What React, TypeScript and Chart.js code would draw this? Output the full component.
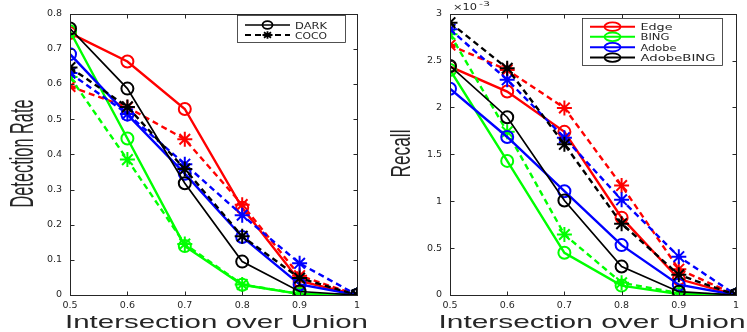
import React, { useEffect, useRef } from 'react';
import { Chart, registerables } from 'chart.js';

Chart.register(...registerables);

// ---------- data ----------
const iouLevels = [0.5, 0.6, 0.7, 0.8, 0.9, 1];

// Left panel: Detection Rate
const darkEdge = [0.745, 0.664, 0.529, 0.248, 0.04, 0];
const cocoEdge = [0.593, 0.534, 0.443, 0.257, 0.055, 0];
const darkBing = [0.75, 0.445, 0.139, 0.029, 0.003, 0];
const cocoBing = [0.62, 0.385, 0.145, 0.03, 0.003, 0];
const darkAdobe = [0.685, 0.513, 0.345, 0.165, 0.03, 0];
const cocoAdobe = [0.631, 0.515, 0.372, 0.227, 0.09, 0];
const darkAdobeBing = [0.758, 0.587, 0.318, 0.095, 0.01, 0];
const cocoAdobeBing = [0.647, 0.535, 0.358, 0.167, 0.048, 0];

// Right panel: Recall (x 10^-3)
const recallEdgeSolid = [2.436, 2.17, 1.74, 0.825, 0.17, 0];
const recallEdgeDashed = [2.665, 2.4, 1.995, 1.167, 0.275, 0];
const recallBingSolid = [2.4, 1.43, 0.45, 0.1, 0.01, 0];
const recallBingDashed = [2.78, 1.74, 0.645, 0.13, 0.02, 0];
const recallAdobeSolid = [2.2, 1.685, 1.107, 0.532, 0.11, 0];
const recallAdobeDashed = [2.834, 2.295, 1.678, 1.015, 0.409, 0];
const recallAdobeBingSolid = [2.443, 1.896, 1.008, 0.303, 0.035, 0];
const recallAdobeBingDashed = [2.904, 2.418, 1.607, 0.761, 0.215, 0];

const leftYTicks = [0, 0.1, 0.2, 0.3, 0.4, 0.5, 0.6, 0.7, 0.8];
const rightYTicks = [0, 0.5, 1, 1.5, 2, 2.5, 3];

const methodNames = ['Edge', 'BING', 'Adobe', 'AdobeBING'];
const styleNames = ['DARK', 'COCO'];

// ---------- styles ----------
const RED = '#ff0000';
const GREEN = '#00ff00';
const BLUE = '#0000ff';
const BLACK = '#000000';
const TEXT = '#262626';

type Pair = { name: string; color: string; solid: number[]; dashed: number[] };

const leftPairs: Pair[] = [
  { name: methodNames[0], color: RED, solid: darkEdge, dashed: cocoEdge },
  { name: methodNames[1], color: GREEN, solid: darkBing, dashed: cocoBing },
  { name: methodNames[2], color: BLUE, solid: darkAdobe, dashed: cocoAdobe },
  { name: methodNames[3], color: BLACK, solid: darkAdobeBing, dashed: cocoAdobeBing },
];
const rightPairs: Pair[] = [
  { name: methodNames[0], color: RED, solid: recallEdgeSolid, dashed: recallEdgeDashed },
  { name: methodNames[1], color: GREEN, solid: recallBingSolid, dashed: recallBingDashed },
  { name: methodNames[2], color: BLUE, solid: recallAdobeSolid, dashed: recallAdobeDashed },
  { name: methodNames[3], color: BLACK, solid: recallAdobeBingSolid, dashed: recallAdobeBingDashed },
];

function buildDatasets(pairs: Pair[]) {
  const ds: any[] = [];
  pairs.forEach((p, i) => {
    const base = 2 * (pairs.length - 1 - i);
    ds.push({
      label: p.name + ' solid',
      data: iouLevels.map((x, k) => ({ x, y: p.solid[k] })),
      borderColor: p.color,
      backgroundColor: p.color,
      borderWidth: p.color === BLACK ? 1.7 : 2.4,
      pointStyle: 'circle',
      pointRadius: 6,
      pointBorderWidth: 2,
      pointBackgroundColor: 'rgba(0,0,0,0)',
      pointBorderColor: p.color,
      tension: 0,
      fill: false,
      order: base + 1,
    });
    ds.push({
      label: p.name + ' dashed',
      data: iouLevels.map((x, k) => ({ x, y: p.dashed[k] })),
      borderColor: p.color,
      backgroundColor: p.color,
      borderWidth: 2.4,
      borderDash: [6, 4],
      pointStyle: 'star',
      pointRadius: 7.5,
      pointBorderWidth: 2,
      pointBackgroundColor: p.color,
      pointBorderColor: p.color,
      tension: 0,
      fill: false,
      order: base,
    });
  });
  return ds;
}

function fitText(ctx: CanvasRenderingContext2D, text: string, x: number, y: number, font: string, width: number, angle = 0, align: CanvasTextAlign = 'center') {
  ctx.save();
  ctx.translate(x, y);
  ctx.rotate(angle);
  ctx.font = font;
  const w = ctx.measureText(text).width;
  ctx.scale(width / w, 1);
  ctx.textAlign = align;
  ctx.textBaseline = 'alphabetic';
  ctx.fillText(text, 0, 0);
  ctx.restore();
}

function drawMarker(ctx: CanvasRenderingContext2D, kind: string, cx: number, cy: number, rx: number, ry: number) {
  ctx.beginPath();
  if (kind === 'circle') {
    ctx.ellipse(cx, cy, rx, ry, 0, 0, Math.PI * 2);
  } else {
    for (let k = 0; k < 4; k++) {
      const a = (k * Math.PI) / 4;
      ctx.moveTo(cx - Math.cos(a) * rx, cy - Math.sin(a) * ry);
      ctx.lineTo(cx + Math.cos(a) * rx, cy + Math.sin(a) * ry);
    }
  }
  ctx.stroke();
}

const framePlugin = {
  id: 'matlabFrame',
  afterDraw(chart: any, _args: any, opts: any) {
    const { ctx, chartArea: a, scales } = chart;
    ctx.save();
    ctx.strokeStyle = TEXT;
    ctx.lineWidth = 1;
    const L = Math.round(a.left) + 0.5;
    const R = Math.round(a.right) + 0.5;
    const T = Math.round(a.top) + 0.5;
    const B = Math.round(a.bottom) + 0.5;
    ctx.strokeRect(L, T, R - L, B - T);
    const tl = 4;
    ctx.beginPath();
    scales.x.ticks.forEach((t: any) => {
      const px = Math.round(scales.x.getPixelForValue(t.value)) + 0.5;
      ctx.moveTo(px, B);
      ctx.lineTo(px, B - tl);
      ctx.moveTo(px, T);
      ctx.lineTo(px, T + tl);
    });
    scales.y.ticks.forEach((t: any) => {
      const py = Math.round(scales.y.getPixelForValue(t.value)) + 0.5;
      ctx.moveTo(L, py);
      ctx.lineTo(L + tl, py);
      ctx.moveTo(R, py);
      ctx.lineTo(R - tl, py);
    });
    ctx.stroke();

    ctx.fillStyle = TEXT;
    const yt = opts.yTitle;
    fitText(ctx, yt.text, yt.x, yt.y, yt.font, yt.len, -Math.PI / 2);
    const xt = opts.xTitle;
    fitText(ctx, xt.text, xt.x, xt.y, xt.font, xt.len);
    if (opts.exponent) {
      const e = opts.exponent;
      fitText(ctx, '\u00d710', e.x, e.y, '8px "DejaVu Sans"', 24, 0, 'left');
      fitText(ctx, '-3', e.x + 26, e.y - 3.5, '6.5px "DejaVu Sans"', 11, 0, 'left');
    }
    const lg = opts.legend;
    ctx.fillStyle = '#ffffff';
    ctx.fillRect(lg.x, lg.y, lg.w, lg.h);
    ctx.strokeStyle = TEXT;
    ctx.lineWidth = 0.8;
    ctx.strokeRect(lg.x + 0.5, lg.y + 0.5, lg.w, lg.h);
    lg.items.forEach((it: any, i: number) => {
      const ry = lg.rowY[i];
      ctx.strokeStyle = it.color;
      ctx.lineWidth = it.width;
      ctx.setLineDash(it.dashed ? [6, 4] : []);
      ctx.beginPath();
      ctx.moveTo(lg.lineX0, ry);
      ctx.lineTo(lg.lineX1, ry);
      ctx.stroke();
      ctx.setLineDash([]);
      ctx.lineWidth = 1.8;
      drawMarker(ctx, it.marker, (lg.lineX0 + lg.lineX1) / 2, ry, lg.mrx, lg.mry);
      ctx.fillStyle = TEXT;
      fitText(ctx, it.label, lg.textX, ry + 3.5, lg.font, it.textW, 0, 'left');
    });
    ctx.restore();
  },
};

function fmt(v: number) {
  return String(parseFloat(v.toFixed(2)));
}

function makeConfig(pairs: Pair[], yMax: number, yStep: number, yTicks: number[], pluginOpts: any, yWidth: number, rightPad: number) {
  return {
    type: 'line',
    data: { datasets: buildDatasets(pairs) },
    plugins: [framePlugin],
    options: {
      animation: false,
      responsive: false,
      maintainAspectRatio: false,
      layout: { padding: { top: 12, right: rightPad, left: 0, bottom: 0 } },
      plugins: {
        legend: { display: false },
        tooltip: { enabled: false },
        title: { display: false },
        matlabFrame: pluginOpts,
      },
      scales: {
        x: {
          type: 'linear',
          min: iouLevels[0],
          max: iouLevels[iouLevels.length - 1],
          afterBuildTicks: (s: any) => {
            s.ticks = iouLevels.map((v) => ({ value: v }));
          },
          afterFit: (s: any) => {
            s.height = 37;
          },
          grid: { display: false, drawTicks: false },
          border: { display: false },
          ticks: {
            padding: 5,
            color: TEXT,
            font: { family: '"DejaVu Sans"', size: 9.5 },
            maxRotation: 0,
            autoSkip: false,
            callback: (v: any) => fmt(Number(v)),
          },
        },
        y: {
          type: 'linear',
          min: 0,
          max: yMax,
          afterBuildTicks: (s: any) => {
            s.ticks = yTicks.map((v) => ({ value: v }));
          },
          afterFit: (s: any) => {
            s.width = yWidth;
          },
          grid: { display: false, drawTicks: false },
          border: { display: false },
          ticks: {
            padding: 8,
            stepSize: yStep,
            color: TEXT,
            font: { family: '"DejaVu Sans"', size: 9.5 },
            autoSkip: false,
            callback: (v: any) => fmt(Number(v)),
          },
        },
      },
    },
  };
}

const leftOpts = {
  yTitle: { text: 'Detection Rate', x: 33, y: 153.5, font: '34px "Liberation Sans"', len: 108 },
  xTitle: { text: 'Intersection over Union', x: 216.5, y: 328, font: '19px "Liberation Sans"', len: 303 },
  legend: {
    x: 237, y: 15, w: 108, h: 27,
    lineX0: 245, lineX1: 290, textX: 295,
    mrx: 5, mry: 3.8,
    font: '8px "DejaVu Sans"',
    rowY: [25, 35],
    items: [
      { label: styleNames[0], color: BLACK, width: 1.5, dashed: false, marker: 'circle', textW: 32 },
      { label: styleNames[1], color: BLACK, width: 1.8, dashed: true, marker: 'star', textW: 32 },
    ],
  },
};

const rightOpts = {
  yTitle: { text: 'Recall', x: 35, y: 153.5, font: '28px "Liberation Sans"', len: 48 },
  xTitle: { text: 'Intersection over Union', x: 217, y: 328, font: '19px "Liberation Sans"', len: 307 },
  exponent: { x: 78, y: 9.5 },
  legend: {
    x: 207, y: 18, w: 140, h: 47,
    lineX0: 215, lineX1: 260, textX: 265.5,
    mrx: 8, mry: 4.3,
    font: '9px "DejaVu Sans"',
    rowY: [26.7, 36.8, 47.2, 57.6],
    items: [
      { label: methodNames[0], color: RED, width: 2, dashed: false, marker: 'circle', textW: 32 },
      { label: methodNames[1], color: GREEN, width: 2, dashed: false, marker: 'circle', textW: 29 },
      { label: methodNames[2], color: BLUE, width: 2, dashed: false, marker: 'circle', textW: 36 },
      { label: methodNames[3], color: BLACK, width: 2, dashed: false, marker: 'circle', textW: 75 },
    ],
  },
};

export default function App() {
  const leftRef = useRef<HTMLCanvasElement | null>(null);
  const rightRef = useRef<HTMLCanvasElement | null>(null);

  useEffect(() => {
    const c1 = new Chart(leftRef.current as HTMLCanvasElement, makeConfig(leftPairs, 0.8, 0.1, leftYTicks, leftOpts, 70, 18) as any);
    const c2 = new Chart(rightRef.current as HTMLCanvasElement, makeConfig(rightPairs, 3, 0.5, rightYTicks, rightOpts, 75, 11) as any);
    return () => {
      c1.destroy();
      c2.destroy();
    };
  }, []);

  return (
    <div style={{ position: 'fixed', left: 0, top: 0, width: 747, height: 332, background: '#ffffff' }}>
      <canvas ref={leftRef} width={375} height={332} style={{ position: 'absolute', left: 0, top: 0, width: 375, height: 332 }} />
      <canvas ref={rightRef} width={372} height={332} style={{ position: 'absolute', left: 375, top: 0, width: 372, height: 332 }} />
    </div>
  );
}
